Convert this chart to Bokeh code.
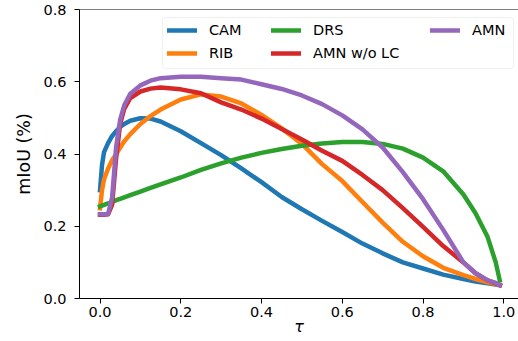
from bokeh.plotting import figure
from bokeh.models import (Legend, LegendItem, FixedTicker, Span, Range1d,
                          PrintfTickFormatter, BoxAnnotation)
from bokeh.embed import file_html
from bokeh.resources import INLINE

tau = [0, 0.005, 0.01, 0.02, 0.03, 0.04, 0.05, 0.06, 0.075, 0.1, 0.125, 0.15, 0.2, 0.25,
       0.3, 0.35, 0.4, 0.45, 0.5, 0.55, 0.6, 0.65, 0.7, 0.75, 0.8, 0.85, 0.9, 0.93, 0.96,
       0.98, 0.99]

cam = [0.30, 0.37, 0.405, 0.43, 0.45, 0.463, 0.475, 0.483, 0.492, 0.499, 0.498, 0.49, 0.463,
       0.43, 0.397, 0.36, 0.322, 0.281, 0.247, 0.215, 0.184, 0.152, 0.125, 0.10, 0.083, 0.066,
       0.054, 0.047, 0.042, 0.039, 0.037]
rib = [0.25, 0.30, 0.33, 0.36, 0.383, 0.40, 0.418, 0.435, 0.455, 0.483, 0.505, 0.523, 0.551,
       0.565, 0.559, 0.54, 0.508, 0.471, 0.428, 0.372, 0.325, 0.267, 0.21, 0.157, 0.117, 0.085,
       0.065, 0.054, 0.045, 0.040, 0.037]
drs = [0.255, 0.257, 0.259, 0.263, 0.267, 0.272, 0.276, 0.28, 0.286, 0.296, 0.306, 0.316,
       0.335, 0.356, 0.374, 0.39, 0.403, 0.414, 0.423, 0.429, 0.433, 0.433, 0.428, 0.415, 0.39,
       0.352, 0.288, 0.236, 0.17, 0.10, 0.05]
amn_wo_lc = [0.232, 0.232, 0.232, 0.233, 0.26, 0.39, 0.484, 0.525, 0.555, 0.573, 0.581, 0.584,
             0.579, 0.568, 0.543, 0.523, 0.498, 0.469, 0.44, 0.409, 0.381, 0.342, 0.30, 0.25,
             0.198, 0.145, 0.10, 0.07, 0.05, 0.042, 0.037]
amn = [0.233, 0.233, 0.233, 0.234, 0.28, 0.42, 0.495, 0.535, 0.567, 0.59, 0.603, 0.61, 0.614,
       0.614, 0.61, 0.606, 0.593, 0.58, 0.562, 0.538, 0.507, 0.468, 0.418, 0.35, 0.275, 0.19,
       0.10, 0.07, 0.05, 0.043, 0.037]

names = ["CAM", "RIB", "DRS", "AMN w/o LC", "AMN"]
series = [cam, rib, drs, amn_wo_lc, amn]
colors = ["#1f77b4", "#ff7f0e", "#2ca02c", "#d62728", "#9467bd"]

x_ticks = [0.0, 0.2, 0.4, 0.6, 0.8, 1.0]
y_ticks = [0.0, 0.2, 0.4, 0.6, 0.8]

W, H = 518, 341
BL, BT, BR, BB = 79, 9, 0, 43
X0, X1 = -0.0508, 1.0364
Y0, Y1 = 0.0, 0.8

p = figure(width=W, height=H, output_backend="svg", toolbar_location=None,
           x_range=Range1d(X0, X1), y_range=Range1d(Y0, Y1),
           min_border_left=BL, min_border_top=BT, min_border_right=BR, min_border_bottom=BB)
p.outline_line_color = None
p.xgrid.visible = False
p.ygrid.visible = False
p.background_fill_color = "white"
p.border_fill_color = "white"

renderers = []
for name, ys, c in zip(names, series, colors):
    r = p.line(tau, ys, line_color=c, line_width=4.5, line_cap="square", line_join="round")
    renderers.append(r)

p.add_layout(Span(location=Y1, dimension="width", line_color="black", line_width=1))

for ax in (p.xaxis[0], p.yaxis[0]):
    ax.axis_line_color = "black"
    ax.axis_line_width = 1
    ax.major_tick_line_color = "black"
    ax.major_tick_out = 5
    ax.major_tick_in = 0
    ax.minor_tick_line_color = None
    ax.major_label_text_font = "DejaVu Sans"
    ax.major_label_text_font_size = "14.5px"
    ax.major_label_text_color = "black"
    ax.formatter = PrintfTickFormatter(format="%.1f")
    ax.axis_label_text_color = "black"
    ax.axis_label_text_font = "DejaVu Sans"
    ax.axis_label_text_font_style = "normal"

p.xaxis[0].ticker = FixedTicker(ticks=x_ticks)
p.yaxis[0].ticker = FixedTicker(ticks=y_ticks)
p.xaxis[0].axis_label = "τ"
p.xaxis[0].axis_label_text_font_style = "italic"
p.xaxis[0].axis_label_text_font_size = "16px"
p.xaxis[0].axis_label_standoff = -3
p.xaxis[0].major_label_standoff = 3
p.yaxis[0].axis_label = "mIoU (%)"
p.yaxis[0].axis_label_text_font_size = "17.5px"
p.yaxis[0].axis_label_standoff = 6
p.yaxis[0].major_label_standoff = 8

# legend frame (canvas pixel layout converted to the data space of the fixed ranges)
fw = W - BL - BR
fh = H - BT - BB
def px_to_x(px):
    return X0 + (px - BL) * (X1 - X0) / fw
def py_to_y(py):
    return Y0 + (H - BB - py) * (Y1 - Y0) / fh

box = BoxAnnotation(left=px_to_x(162), right=px_to_x(513), top=py_to_y(17), bottom=py_to_y(68),
                    fill_color="white", fill_alpha=0.8, line_color="#cccccc", line_width=1,
                    border_radius=3)
p.add_layout(box)

frame_bottom = H - BB
def make_legend(idx, left_px, bottom_px):
    lg = Legend(items=[LegendItem(label=names[i], renderers=[renderers[i]]) for i in idx],
                location=(left_px - BL, frame_bottom - bottom_px), orientation="vertical")
    lg.label_text_font = "DejaVu Sans"
    lg.label_text_font_size = "14.5px"
    lg.label_text_color = "black"
    lg.glyph_width = 30
    lg.glyph_height = 16
    lg.label_height = 16
    lg.label_standoff = 12
    lg.spacing = 7
    lg.padding = 0
    lg.margin = 0
    lg.border_line_color = None
    lg.background_fill_alpha = 0
    p.add_layout(lg)
    return lg

make_legend([0, 1], 167, 61)
make_legend([2, 3], 271, 61)
make_legend([4], 430, 38)

open("out.html", "w").write(file_html(p, INLINE))
